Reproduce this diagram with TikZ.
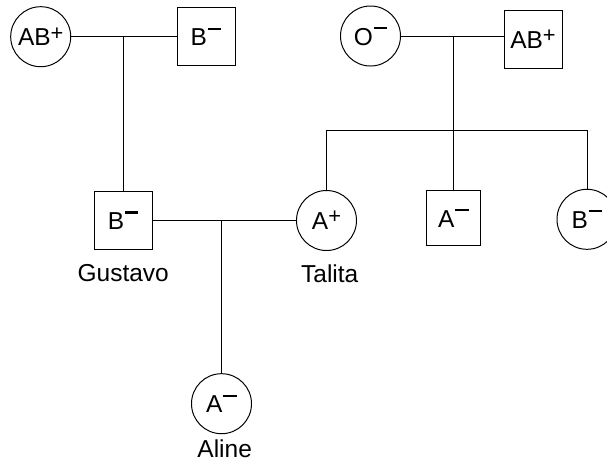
\documentclass[tikz,border=0pt]{standalone}
\usepackage{fontspec}
\setmainfont{Liberation Sans}
\usetikzlibrary{positioning}
\newcommand{\rhneg}{\kern0.03em\rule[0.66em]{0.55em}{0.09em}}
\newcommand{\rhpos}{\raisebox{0.24em}{\fontsize{15.5}{15.5}\selectfont +}}
\tikzset{
	female/.style={draw, circle, minimum size=1.5cm, inner sep=0pt},
	male/.style={draw, rectangle, minimum size=1.45cm, inner sep=0pt},
	namelabel/.style={inner sep=0pt},
}

\begin{document}
\begin{tikzpicture}[x=0.025cm, y=-0.025cm, line width=0.7pt, font=\fontsize{17.4}{20}\selectfont]
	%%%%% START %%%%%
	\useasboundingbox (0, 0) rectangle (607, 462);
	
	\node[female] (ab1) at (40.7, 36.7) {AB\rhpos};
	\node[male] (b1) at (206, 36.7) {B\rhneg};
	
	\node[female] (o1) at (370.5, 36) {O\rhneg};
	\node[male] (ab2) at (533, 39.5) {AB\rhpos};
	
	\node[male] (gustavo) at (123.2, 220.5) {B\rhneg};
	\node[female] (talita) at (326.5, 220.5) {A\rhpos};
	\node[male, minimum size=1.36cm] (am1) at (453.5, 218) {A\rhneg};
	\node[female] (b2) at (587, 219.3) {B\rhneg};
	
	\node[female] (aline) at (221.5, 403.7) {A\rhneg};
	
	\node[namelabel, below=0.35cm of gustavo] (gustavoname) {Gustavo};
	\node[namelabel, below=0.33cm of talita, xshift=0.08cm] (talitaname) {Talita};
	\node[namelabel, below=0.12cm of aline, xshift=0.08cm] (alinename) {Aline};
	
	\coordinate (sibbar) at (0, 130.7);
	
	\draw (ab1) -- (b1);
	\draw (ab1 -| gustavo) -- (gustavo);
	
	\draw (o1.east) -- (o1.east -| ab2.west);
	\draw (o1.east -| am1.north) -- (am1.north);
	\draw (talita.north) |- (sibbar -| b2.north) -- (b2.north);
	
	\draw (gustavo) -- (talita);
	\draw (gustavo -| aline) -- (aline);
	%%%%% END %%%%%
\end{tikzpicture}
\end{document}
